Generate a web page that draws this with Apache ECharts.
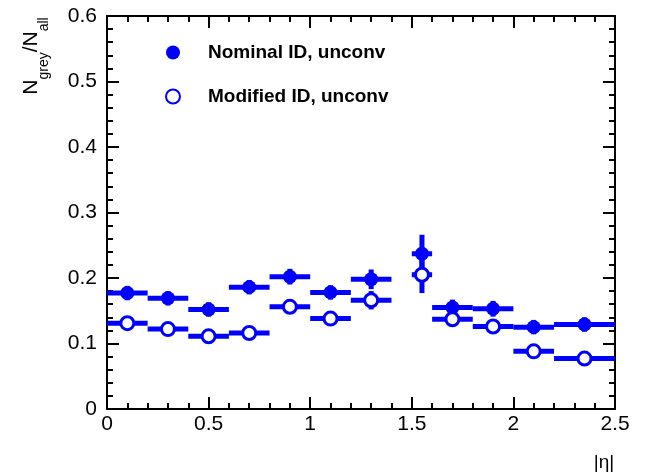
<!DOCTYPE html>
<html>
<head>
<meta charset="utf-8">
<script src="https://cdn.jsdelivr.net/npm/echarts@6/dist/echarts.min.js"></script>
<style>html,body{margin:0;padding:0;background:#fff;}#c{width:645px;height:476px;}</style>
</head>
<body>
<div id="c"></div>
<script>
const binLo = [0, 0.2, 0.4, 0.6, 0.8, 1.0, 1.2, 1.5, 1.6, 1.8, 2.0, 2.2];
const binHi = [0.2, 0.4, 0.6, 0.8, 1.0, 1.2, 1.4, 1.6, 1.8, 2.0, 2.2, 2.5];
const binCenter = [0.1, 0.3, 0.5, 0.7, 0.9, 1.1, 1.3, 1.55, 1.7, 1.9, 2.1, 2.35];
const nominal = [0.177, 0.169, 0.152, 0.186, 0.202, 0.178, 0.198, 0.237, 0.155, 0.153, 0.125, 0.129];
const nominalErr = [0.011, 0.011, 0.011, 0.011, 0.012, 0.011, 0.015, 0.029, 0.012, 0.012, 0.011, 0.011];
const modified = [0.131, 0.122, 0.111, 0.116, 0.156, 0.138, 0.166, 0.205, 0.137, 0.126, 0.088, 0.077];
const modifiedErr = [0.010, 0.010, 0.010, 0.010, 0.011, 0.010, 0.014, 0.028, 0.011, 0.011, 0.010, 0.011];
const seriesNames = ['Nominal ID, unconv', 'Modified ID, unconv'];
const xTicks = [0, 0.5, 1, 1.5, 2, 2.5];
const yTicks = [0, 0.1, 0.2, 0.3, 0.4, 0.5, 0.6];

const BLUE = '#0000ff';
const FONT = '"Liberation Sans", Arial, Helvetica, sans-serif';

function errData(vals, errs) {
  return vals.map((v, i) => [binLo[i], binHi[i], v, errs[i], binCenter[i]]);
}
function renderErr(params, api) {
  const lo = api.value(0), hi = api.value(1), y = api.value(2), e = api.value(3), c = api.value(4);
  const pL = api.coord([lo, y]);
  const pR = api.coord([hi, y]);
  const pT = api.coord([c, y + e]);
  const pB = api.coord([c, y - e]);
  const st = { stroke: BLUE, lineWidth: 5, lineCap: 'butt' };
  return {
    type: 'group',
    children: [
      { type: 'line', shape: { x1: pL[0], y1: pL[1], x2: pR[0], y2: pR[1] }, style: st },
      { type: 'line', shape: { x1: pT[0], y1: pT[1], x2: pB[0], y2: pB[1] }, style: st }
    ]
  };
}

function axisCommon() {
  return {
    axisLine: { show: true, onZero: false, lineStyle: { color: '#000', width: 2 } },
    axisTick: { show: true, inside: true, length: 12, lineStyle: { color: '#000', width: 2 } },
    minorTick: { show: true, splitNumber: 5, length: 6, lineStyle: { color: '#000', width: 2 } },
    splitLine: { show: false },
    minorSplitLine: { show: false }
  };
}

const chart = echarts.init(document.getElementById('c'), null, { renderer: 'canvas' });
chart.setOption({
  animation: false,
  backgroundColor: '#fff',
  grid: { left: 107, right: 30, top: 16, bottom: 67 },
  xAxis: [
    Object.assign({
      type: 'value', min: xTicks[0], max: xTicks[xTicks.length - 1], interval: 0.5, position: 'bottom',
      axisLabel: { show: true, margin: 5, color: '#000', fontSize: 21, fontFamily: FONT,
        formatter: v => String(v) }
    }, axisCommon()),
    Object.assign({
      type: 'value', min: xTicks[0], max: xTicks[xTicks.length - 1], interval: 0.5, position: 'top',
      axisLabel: { show: false }
    }, axisCommon())
  ],
  yAxis: [
    Object.assign({
      type: 'value', min: yTicks[0], max: yTicks[yTicks.length - 1], interval: 0.1, position: 'left',
      axisLabel: { show: true, margin: 10, color: '#000', fontSize: 21, fontFamily: FONT,
        formatter: v => String(Math.round(v * 10) / 10) }
    }, axisCommon()),
    Object.assign({
      type: 'value', min: yTicks[0], max: yTicks[yTicks.length - 1], interval: 0.1, position: 'right',
      axisLabel: { show: false }
    }, axisCommon())
  ],
  legend: {
    orient: 'vertical', left: 160, top: 38, itemGap: 25, itemWidth: 14, itemHeight: 14,
    data: seriesNames,
    textStyle: { fontFamily: FONT, fontSize: 19, fontWeight: 'bold', color: '#000', padding: [0, 0, 0, 23] }
  },
  graphic: [
    {
      type: 'text', x: 36, y: 56, rotation: Math.PI / 2,
      style: {
        text: '{n|N}{s|grey}{n|/N}{s|all}',
        align: 'center', verticalAlign: 'middle',
        fill: '#000', font: '21px ' + FONT,
        rich: {
          n: { fontSize: 21, fontFamily: FONT, fill: '#000', lineHeight: 30, verticalAlign: 'top' },
          s: { fontSize: 14, fontFamily: FONT, fill: '#000', lineHeight: 30, verticalAlign: 'bottom' }
        }
      }
    },
    {
      type: 'text', x: 604, y: 463,
      style: { text: '|η|', align: 'center', verticalAlign: 'middle', fill: '#000', font: '19px ' + FONT }
    }
  ],
  series: [
    {
      type: 'custom', name: 'nomErr', renderItem: renderErr, data: errData(nominal, nominalErr),
      encode: { x: [0, 1], y: 2 }, z: 2, silent: true
    },
    {
      type: 'custom', name: 'modErr', renderItem: renderErr, data: errData(modified, modifiedErr),
      encode: { x: [0, 1], y: 2 }, z: 2, silent: true
    },
    {
      type: 'scatter', name: seriesNames[0], symbol: 'circle', symbolSize: 14, z: 5,
      itemStyle: { color: BLUE, opacity: 1 },
      data: binCenter.map((x, i) => [x, nominal[i]])
    },
    {
      type: 'scatter', name: seriesNames[1], symbol: 'circle', symbolSize: 13, z: 5,
      itemStyle: { color: '#fff', borderColor: BLUE, borderWidth: 3, opacity: 1 },
      data: binCenter.map((x, i) => [x, modified[i]])
    }
  ]
});
</script>
</body>
</html>
